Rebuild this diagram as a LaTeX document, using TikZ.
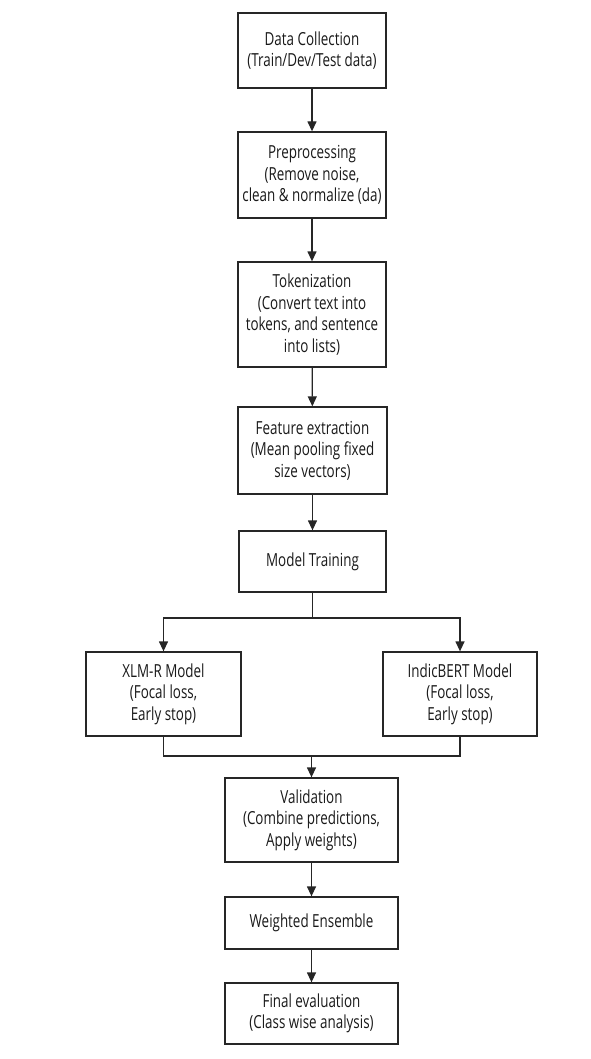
\documentclass[tikz,border=0pt]{standalone}
\usepackage{fontspec}
\setmainfont[FakeStretch=0.745]{Open Sans}
\usetikzlibrary{arrows.meta}
\begin{document}
\begin{tikzpicture}[x=1pt,y=-1pt,
  box/.style={draw=black!85, line width=1.3pt, inner sep=0pt, align=center,
    font=\fontsize{18}{21.5}\selectfont, text=black!90},
  conn/.style={draw=black!85, line width=1.3pt},
  arr/.style={conn, -{Triangle[length=10pt,width=9pt]}}]
\useasboundingbox (0,0) rectangle (590,1059);
\node[box, minimum width=148pt, minimum height=75pt] (dc) at (312,50.5) {Data Collection\\(Train/Dev/Test data)};
\node[box, minimum width=148pt, minimum height=86pt] (pp) at (312,175) {Preprocessing\\(Remove noise,\\clean \& normalize (da)};
\node[box, minimum width=148pt, minimum height=105pt] (tk) at (312,314.5) {Tokenization\\(Convert text into\\tokens, and sentence\\into lists)};
\node[box, minimum width=149pt, minimum height=87pt] (fe) at (312.5,450.5) {Feature extraction\\(Mean pooling fixed\\size vectors)};
\node[box, minimum width=147pt, minimum height=61pt] (mt) at (312.5,561.5) {Model Training};
\node[box, minimum width=155pt, minimum height=84pt] (xl) at (163.5,694) {XLM-R Model\\(Focal loss,\\Early stop)};
\node[box, minimum width=154pt, minimum height=84pt] (ib) at (460,694) {IndicBERT Model\\(Focal loss,\\Early stop)};
\node[box, minimum width=173pt, minimum height=84pt] (va) at (311.5,820) {Validation\\(Combine predictions,\\Apply weights)};
\node[box, minimum width=173pt, minimum height=52pt] (we) at (311.5,923) {Weighted Ensemble};
\node[box, minimum width=173pt, minimum height=61pt] (fv) at (311.5,1013.5) {Final evaluation\\(Class wise analysis)};
\coordinate (sp) at (312.5,618);
\coordinate (mg) at (311.5,756);
\draw[arr] (dc) -- (pp);
\draw[arr] (pp) -- (tk);
\draw[arr] (tk) -- (fe);
\draw[arr] (fe) -- (mt);
\draw[conn] (mt.south) -- (sp);
\draw[arr] (sp) -| (xl.north);
\draw[arr] (sp) -| (ib.north);
\draw[conn] (xl.south) |- (mg);
\draw[conn] (ib.south) |- (mg);
\draw[arr] (mg) -- (va.north);
\draw[arr] (va) -- (we);
\draw[arr] (we) -- (fv);
\end{tikzpicture}
\end{document}
